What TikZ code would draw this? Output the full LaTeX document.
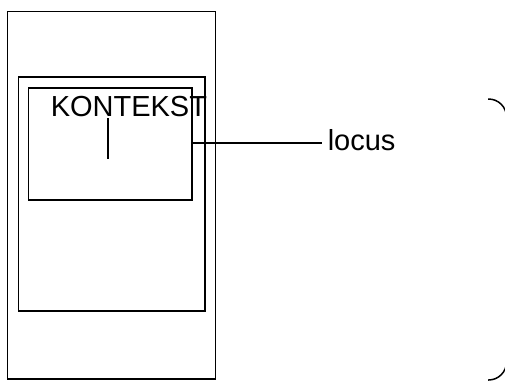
\documentclass[tikz,border=0pt]{standalone}
\usepackage{fontspec}
\setmainfont{Liberation Sans}
\usetikzlibrary{positioning}

\begin{document}
\begin{tikzpicture}[x=1pt,y=-1pt,line width=1.5pt,
  box/.style={draw,inner sep=0pt},
  lbl/.style={font=\fontsize{29}{31}\selectfont,inner sep=0pt}]
 \useasboundingbox (0,0) rectangle (505,381);
 \node[box,minimum width=208pt,minimum height=367.5pt] (device) at (111.5,195.25) {};
 \node[box,minimum width=186.5pt,minimum height=234pt] (frame) at (111.75,194) {};
 \node[box,minimum width=163.5pt,minimum height=112pt] (context) at (110,144) {};
 \node[lbl,anchor=base west] (kontekst) at (50,116.5) {KONTEKST};
 \coordinate (tick_top) at (108,118);
 \coordinate (tick_bottom) at (108,159);
 \node[lbl,anchor=base west,inner xsep=5pt] (locus) at (322,150.5) {locus};
 \coordinate (locus_pin) at ([yshift=7.5pt]locus.base west);
 \draw (tick_top) -- (tick_bottom);
 \draw (context.east |- locus_pin) -- (locus_pin);
 % bracket cut off by the right edge
 \draw[rounded corners=18pt] (488,99) -- (506.5,99) -- (506.5,380) -- (488,380);
\end{tikzpicture}
\end{document}
